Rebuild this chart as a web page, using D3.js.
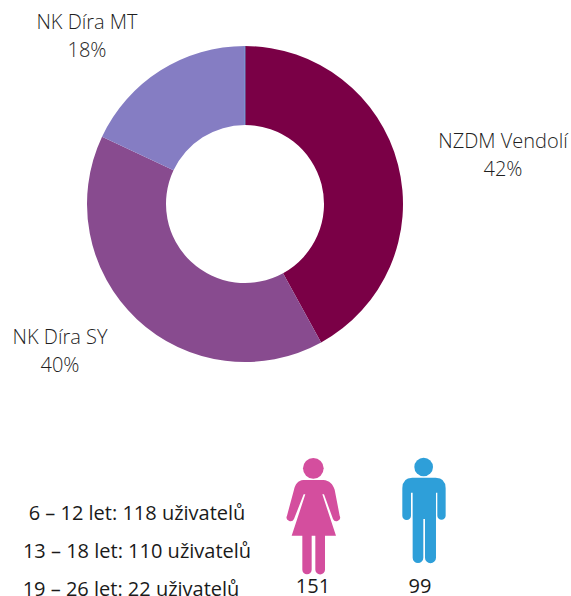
<!DOCTYPE html>
<html lang="en">
    <head>
        <meta charset="utf-8">
        <title>Uživatelé</title>
        <script src="https://d3js.org/d3.v7.min.js"></script>
        <style type="text/css">
          html, body {
            margin: 0;
            background: #fff;
          }
          svg {
            display: block;
            width: 571px;
            height: 596px;
          }
          .slice-label {
            font-family: "Open Sans", sans-serif;
            font-size: 20px;
            font-weight: 300;
            fill: #1f1f1f;
          }
          .age-label, .count-label {
            font-family: "Open Sans", sans-serif;
            font-size: 20px;
            font-weight: 400;
            fill: #1a1a1a;
          }
        </style>
    </head>
    <body>
        <svg></svg>

        <script type="text/javascript">
        // data
        const places = ["NZDM Vendolí", "NK Díra SY", "NK Díra MT"];
        const shares = [42, 40, 18];
        const placeColors = ["#7a0046", "#884b8f", "#857dc3"];
        const ageLabels = ["6 – 12 let: 118 uživatelů", "13 – 18 let: 110 uživatelů", "19 – 26 let: 22 uživatelů"];
        const genderCounts = [151, 99];
        const genderColors = ["#d44e9e", "#2e9fd9"];

        const svg = d3.select("svg");

        //donut
        const cx = 245, cy = 204;
        const pie = d3.pie().sort(null);
        const arc = d3.arc().innerRadius(79).outerRadius(158);

        const donut = svg.append("g").attr("transform", "translate(" + [cx, cy] + ")");

        donut.selectAll("path")
             .data(pie(shares))
             .enter()
             .append("path")
             .attr("d", arc)
             .attr("fill", (d, i) => placeColors[i]);

        //thin light seam at 12 o'clock, where the last slice meets the first
        donut.append("line")
             .attr("x1", 0).attr("x2", 0)
             .attr("y1", -158).attr("y2", -79)
             .attr("stroke", "#6fb0e0")
             .attr("stroke-width", 0.8);

        //slice labels, placed by hand like the original
        const labelPos = [[503, 148], [60, 344], [87, 29]];
        places.forEach((name, i) => {
          const t = svg.append("text")
                       .attr("class", "slice-label")
                       .attr("text-anchor", "middle")
                       .attr("x", labelPos[i][0])
                       .attr("y", labelPos[i][1]);
          t.append("tspan").text(name);
          t.append("tspan")
           .attr("x", labelPos[i][0])
           .attr("dy", 27.5)
           .text(shares[i] + "%");
        });

        //age groups
        const ageX = [137, 137, 131];
        const ageY = [520, 558, 596];
        svg.selectAll(".age-label")
           .data(ageLabels)
           .enter()
           .append("text")
           .attr("class", "age-label")
           .attr("text-anchor", "middle")
           .attr("x", (d, i) => ageX[i])
           .attr("y", (d, i) => ageY[i])
           .text(d => d);

        //people icons, drawn in 3x units
        const icons = svg.append("g").attr("transform", "translate(270,445) scale(0.3333)");

        const woman = icons.append("g").attr("fill", genderColors[0]);
        woman.append("circle").attr("cx", 130).attr("cy", 70).attr("r", 31);
        woman.append("path")
             .attr("d", "M100,105 H160 C178,106 189,118 194,134 L209,212 A11,11 0 0 1 189,222 L162,148 H157 L198,272 H165 V374 A14,14 0 0 1 136,374 V272 H125 V374 A14,14 0 0 1 97,374 V272 H65 L106,148 H101 L72,222 A11,11 0 0 1 51,212 L72,134 C76,118 84,106 100,105 Z");

        const man = icons.append("g").attr("fill", genderColors[1]);
        man.append("circle").attr("cx", 461).attr("cy", 66).attr("r", 28);
        man.append("path")
           .attr("d", "M427,98 H497 Q527,98 527,130 V212 A12.5,12.5 0 0 1 502,212 V143 H498 V338 A16.5,16.5 0 0 1 465,338 V222 H460 V338 A16,16 0 0 1 428,338 V143 H423 V212 A13,13 0 0 1 397,212 V130 Q397,98 427,98 Z");

        const countX = [313, 420];
        svg.selectAll(".count-label")
           .data(genderCounts)
           .enter()
           .append("text")
           .attr("class", "count-label")
           .attr("text-anchor", "middle")
           .attr("x", (d, i) => countX[i])
           .attr("y", 593)
           .text(d => d);
        </script>
    </body>
</html>
